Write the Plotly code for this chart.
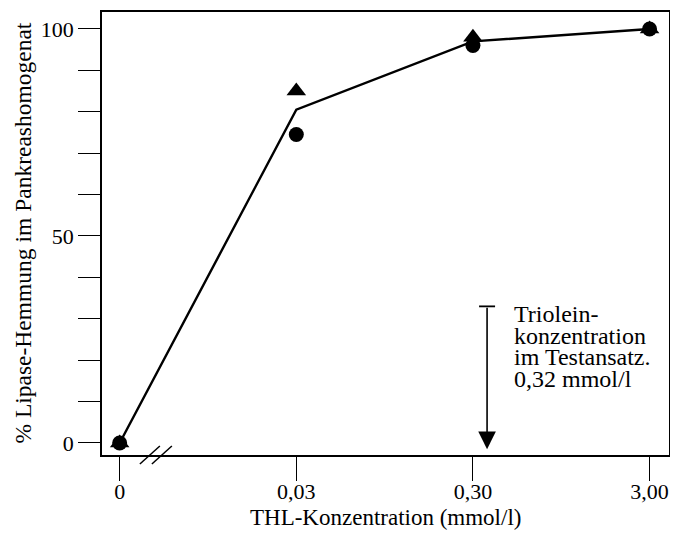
import plotly.graph_objects as go

# Data
x_labels = ["0", "0,03", "0,30", "3,00"]
circle_vals = [0, 74.5, 96, 100]
triangle_vals = [0, 85, 98, 100]
line_vals = [0, 80.5, 97, 100]
y_tick_vals = list(range(0, 101, 10))
y_tick_text = ["0" if v == 0 else "50" if v == 50 else "100" if v == 100 else "" for v in y_tick_vals]
note_lines = ["Triolein-", "konzentration", "im Testansatz.", "0,32 mmol/l"]
arrow_top = 33
arrow_bottom = -1.5
arrow_x = 2.08

FONT = "Liberation Serif, Times New Roman, serif"

fig = go.Figure()
fig.add_trace(go.Scatter(x=x_labels, y=line_vals, mode="lines",
                         line=dict(color="black", width=2.4), showlegend=False))
fig.add_trace(go.Scatter(x=x_labels, y=circle_vals, mode="markers",
                         marker=dict(symbol="circle", size=15, color="black"), showlegend=False))
fig.add_trace(go.Scatter(x=x_labels, y=triangle_vals, mode="markers",
                         marker=dict(symbol="triangle-up", size=17, color="black"), showlegend=False))

fig.update_layout(
    width=670, height=525,
    margin=dict(l=94, r=9, t=4, b=78),
    paper_bgcolor="white", plot_bgcolor="white",
    font=dict(family=FONT, size=22, color="black"),
    xaxis=dict(type="category", range=[-0.10, 3.11], showgrid=False, zeroline=False,
               showline=True, linecolor="black", linewidth=1.5, mirror=True,
               ticks="outside", ticklen=24, tickwidth=1.3, tickcolor="black",
               ticklabelstandoff=-8, automargin=False,
               tickfont=dict(family=FONT, size=22)),
    yaxis=dict(range=[-2.9, 104.1], showgrid=False, zeroline=False,
               showline=True, linecolor="black", linewidth=1.5, mirror=True,
               ticks="outside", ticklen=22, tickwidth=1.3, tickcolor="black",
               tickmode="array", tickvals=y_tick_vals, ticktext=y_tick_text,
               automargin=False, tickfont=dict(family=FONT, size=22)),
)

# axis titles
fig.add_annotation(text="THL-Konzentration (mmol/l)", xref="paper", yref="paper",
                   x=0.5, y=-0.142, xanchor="center", yanchor="middle", showarrow=False,
                   font=dict(family=FONT, size=23))
fig.add_annotation(text="% Lipase-Hemmung im Pankreashomogenat", xref="paper", yref="paper",
                   x=-0.141, y=0.5, xanchor="center", yanchor="middle", textangle=-90,
                   showarrow=False, font=dict(family=FONT, size=23.5))

# arrow
fig.add_annotation(x=arrow_x, y=arrow_bottom, ax=arrow_x, ay=arrow_top, xref="x", yref="y",
                   axref="x", ayref="y", showarrow=True, arrowhead=2, arrowsize=2.2,
                   arrowwidth=1.6, arrowcolor="black", text="")
fig.add_shape(type="line", xref="x", yref="y", xsizemode="pixel", xanchor=arrow_x,
              x0=-8, x1=8, y0=arrow_top, y1=arrow_top, line=dict(color="black", width=1.8))

for i, t in enumerate(note_lines):
    fig.add_annotation(text=t, xref="x", yref="y", x=2.225, y=34.5, xanchor="left",
                       yanchor="top", showarrow=False, align="left", yshift=-21.5 * i,
                       borderpad=0, font=dict(family=FONT, size=24))

# axis break marks
for dx in (-6, 6):
    fig.add_shape(type="line", xref="x", yref="paper", xsizemode="pixel", ysizemode="pixel",
                  xanchor=0.205, yanchor=0, x0=dx - 10, x1=dx + 10, y0=-9, y1=9,
                  line=dict(color="black", width=1.5))

fig.write_html("out.html")
